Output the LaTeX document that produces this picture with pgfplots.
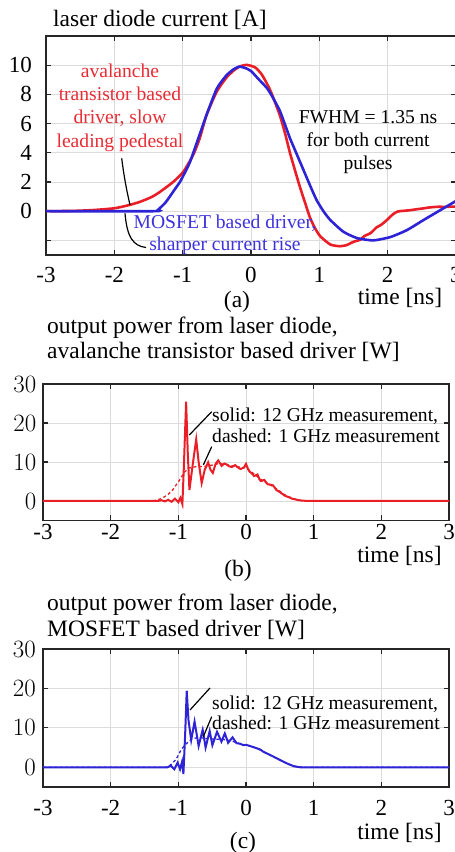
\documentclass[border=0pt]{standalone}
\usepackage{fontspec}
\setmainfont{Liberation Serif}
\usepackage{pgfplots}
\pgfplotsset{compat=1.18}
\definecolor{mred}{RGB}{234,30,38}
\definecolor{mblue}{RGB}{46,36,214}
\definecolor{tred}{RGB}{232,44,52}
\definecolor{tblue}{RGB}{62,50,222}
\pgfplotsset{
  mystyle/.style={
    scale only axis, anchor=south west,
    xmin=-3, xmax=3,
    xtick={-3,-2,-1,0,1,2,3}, xticklabels={-3,-2,-1,0,1,2,3},
    grid=major, major grid style={gray!28,line width=0.9pt},
    axis line style={black!85,line width=1.4pt},
    tick style={black!85,line width=1.1pt},
    major tick length=5pt,
    tick align=inside,
    xtick pos=both, ytick pos=both,
    ticklabel style={font=\fontsize{23}{26}\selectfont, inner sep=0pt},
  }
}
\newcommand{\ann}{\fontsize{19.6}{22}\selectfont}
\newcommand{\ttl}{\fontsize{23.5}{26}\selectfont}
\begin{document}
\begin{tikzpicture}[x=1pt,y=1pt]
\useasboundingbox (0,0) rectangle (455,852);
% ---------------- panel (a)
\begin{axis}[mystyle, at={(46pt,597pt)}, width=410pt, height=219pt,
  ymin=-3, ymax=12, ytick={-2,0,2,4,6,8,10}, yticklabels={,0,2,4,6,8,10},
  xticklabel style={yshift=-12pt}, yticklabel style={xshift=-14pt}]
\addplot[mred, line width=2.6pt, smooth, tension=0.35] coordinates {
(-3,0) (-2.6,0.02) (-2.3,0.08) (-2,0.2) (-1.8,0.4) (-1.625,0.64) (-1.45,0.98) (-1.33,1.33)
(-1.14,2.0) (-0.99,2.7) (-0.845,3.86) (-0.75,5.0) (-0.65,6.6) (-0.5,8.2) (-0.36,9.15)
(-0.25,9.65) (-0.16,9.92) (-0.06,10.02) (0.06,9.85) (0.16,9.35) (0.28,8.3) (0.42,6.6)
(0.5,5.3) (0.57,4.0) (0.65,2.7) (0.72,1.6) (0.79,0.6) (0.86,-0.4) (0.93,-1.1) (1.01,-1.7)
(1.16,-2.28) (1.3,-2.4) (1.4,-2.32) (1.5,-2.1) (1.6,-1.95) (1.66,-1.7) (1.75,-1.5) (1.84,-1.1)
(1.9,-0.95) (1.99,-0.6) (2.08,-0.2) (2.15,-0.02) (2.22,0.02) (2.33,0.07) (2.45,0.15) (2.52,0.19)
(2.6,0.25) (2.72,0.3) (2.85,0.3) (3,0.32)};
\addplot[mblue, line width=2.6pt, smooth, tension=0.35] coordinates {
(-3,0) (-1.42,0) (-1.36,0.1) (-1.25,0.6) (-1.14,1.33) (-1.1,1.6) (-1.04,2.0) (-0.95,2.8)
(-0.89,3.4) (-0.77,5.0) (-0.65,6.6) (-0.5,8.4) (-0.36,9.3) (-0.26,9.7) (-0.17,9.9)
(-0.08,9.8) (0,9.6) (0.1,9.1) (0.23,8.45) (0.3,7.95) (0.42,6.9) (0.5,5.9) (0.57,5.0) (0.67,3.9)
(0.77,2.8) (0.87,1.7) (0.96,0.76) (1.06,0) (1.16,-0.6) (1.35,-1.4) (1.55,-1.84) (1.79,-2.0)
(2.04,-1.77) (2.28,-1.3) (2.52,-0.62) (2.77,0.07) (3.0,0.7)};
\end{axis}
\node[anchor=base west, font=\ttl, inner sep=0pt] at (53,825.3) {laser diode current [A]};
\begin{scope}[every node/.style={anchor=base, font=\ann, inner sep=0pt, text=tred}]
\node at (120,774.7) {avalanche};
\node at (120,751.3) {transistor based};
\node at (120,728) {driver, slow};
\node at (120,704.7) {leading pedestal};
\end{scope}
\begin{scope}[every node/.style={anchor=base, font=\ann, inner sep=0pt, text=tblue}]
\node at (225,623.7) {MOSFET based driver,};
\node at (225,601.3) {sharper current rise};
\end{scope}
\begin{scope}[every node/.style={anchor=base, font=\ann, inner sep=0pt}]
\node at (368,728.7) {FWHM = 1.35 ns};
\node at (368,705.3) {for both current};
\node at (368,682) {pulses};
\end{scope}
\draw[line width=1.2pt] (121.7,693.7) .. controls (124,675) and (127,660) .. (130,647);
\draw[line width=1.2pt] (125,638.7) .. controls (127,615) and (133,606) .. (146,604.5);
\node[anchor=base, font=\ttl, inner sep=0pt] at (400,547.5) {time [ns]};
\node[anchor=base, font=\ttl, inner sep=0pt] at (237,544) {(a)};
% ---------------- panel (b)
\begin{axis}[mystyle, at={(43pt,331.5pt)}, width=406pt, height=136.5pt,
  ymin=-5, ymax=30, ytick={0,10,20,30},
  xticklabel style={yshift=-3.5pt}, yticklabel style={xshift=-6.5pt}]
\addplot[mred, line width=1.3pt, dash pattern=on 3pt off 2.5pt] coordinates {
(-3,0) (-1.45,0) (-1.35,0.1) (-1.25,0.6) (-1.15,1.7) (-1.085,2.8) (-0.985,5.3) (-0.91,7.4)
(-0.836,8.5) (-0.74,8.8) (-0.6,8.9) (-0.5,9.2) (-0.4,9.6) (-0.3,9.4) (-0.2,9.0) (-0.1,8.7)
(0,8.5) (0.1,7.2) (0.2,5.8) (0.3,4.6) (0.4,3.7) (0.5,2.5) (0.6,1.3) (0.7,0.6) (0.8,0.15) (0.9,0) (3,0)};
\addplot[mred, line width=2.0pt] coordinates {
(-3,0) (-1.3,0) (-1.25,0.2) (-1.2,-0.1) (-1.15,0.3) (-1.1,-0.2) (-1.05,0.6) (-1.0,-0.3)
(-0.97,0.8) (-0.94,-0.8) (-0.92,8) (-0.885,25.5) (-0.86,12) (-0.836,2.8) (-0.79,9)
(-0.736,15.8) (-0.70,10) (-0.655,4.6) (-0.61,8) (-0.56,9.9) (-0.525,8) (-0.49,7.2)
(-0.45,9.5) (-0.41,10.4) (-0.36,9.0) (-0.32,9.6) (-0.29,9.4) (-0.25,8.9) (-0.21,8.7)
(-0.16,9.2) (-0.12,8.6) (-0.08,8.2) (-0.03,8.6) (0.0,9.5) (0.03,8.2) (0.05,7.6) (0.09,7.0)
(0.12,6.4) (0.17,6.8) (0.2,5.5) (0.22,5.1) (0.27,5.4) (0.32,4.3) (0.36,4.2) (0.40,4.0)
(0.45,2.8) (0.49,2.4) (0.53,1.9) (0.58,1.3) (0.63,1.0) (0.68,0.6) (0.73,0.4) (0.78,0.2)
(0.83,0.1) (0.9,0.03) (1.0,0) (3,0)};
\end{axis}
\node[anchor=base west, font=\ttl, inner sep=0pt] at (47,518.7) {output power from laser diode,};
\node[anchor=base west, font=\ttl, inner sep=0pt] at (47,493.7) {avalanche transistor based driver [W]};
\node[anchor=base west, font=\ann, inner sep=0pt] at (212,430.3) {solid: 12 GHz measurement,};
\node[anchor=base west, font=\ann, inner sep=0pt] at (212,409.3) {dashed: 1 GHz measurement};
\draw[line width=1.2pt] (211.7,440.3) -- (189.3,417);
\draw[line width=1.2pt] (211.7,405.3) -- (203.3,387);
\node[anchor=base, font=\ttl, inner sep=0pt] at (399.5,289) {time [ns]};
\node[anchor=base, font=\ttl, inner sep=0pt] at (238,275) {(b)};
% ---------------- panel (c)
\begin{axis}[mystyle, at={(43pt,65pt)}, width=406pt, height=138pt,
  ymin=-5, ymax=30, ytick={0,10,20,30},
  xticklabel style={yshift=-13pt}, yticklabel style={xshift=-7pt}]
\addplot[mblue, line width=1.3pt, dash pattern=on 3pt off 2.5pt] coordinates {
(-3,0) (-1.2,0) (-1.16,0.1) (-1.1,0.8) (-1.03,2.1) (-0.96,4.4) (-0.91,5.5) (-0.85,6.5)
(-0.8,7.2) (-0.7,7.6) (-0.6,7.3) (-0.5,7.2) (-0.4,7.1) (-0.3,7.0) (-0.2,6.6) (-0.1,6.0)
(0,5.6) (0.1,5.2) (0.2,4.5) (0.3,3.6) (0.4,2.7) (0.5,1.8) (0.6,1.0) (0.7,0.35) (0.8,0.05) (0.9,0) (3,0)};
\addplot[mblue, line width=2.0pt] coordinates {
(-3,0) (-1.16,0) (-1.11,0.4) (-1.06,-0.5) (-1.01,1.2) (-0.975,-0.5) (-0.945,1.4) (-0.925,-1.7)
(-0.9,8) (-0.876,19.4) (-0.85,12) (-0.81,6.9) (-0.76,11.6) (-0.70,5.4) (-0.64,9.5)
(-0.597,5.0) (-0.537,9.2) (-0.497,5.6) (-0.428,9.0) (-0.363,6.5) (-0.313,8.6) (-0.264,6.2)
(-0.199,7.6) (-0.139,6.1) (-0.09,6.0) (-0.04,5.6) (0.0,5.7) (0.06,5.4) (0.13,5.0) (0.21,4.5)
(0.26,3.9) (0.31,3.5) (0.36,3.1) (0.43,2.5) (0.51,1.8) (0.56,1.35) (0.63,0.8) (0.71,0.25)
(0.8,0) (3,0)};
\end{axis}
\node[anchor=base west, font=\ttl, inner sep=0pt] at (47,241.3) {output power from laser diode,};
\node[anchor=base west, font=\ttl, inner sep=0pt] at (47,215.3) {MOSFET based driver [W]};
\node[anchor=base west, font=\ann, inner sep=0pt] at (212,142.7) {solid: 12 GHz measurement,};
\node[anchor=base west, font=\ann, inner sep=0pt] at (212,122) {dashed: 1 GHz measurement};
\draw[line width=1.2pt] (210,164) -- (190,142);
\draw[line width=1.2pt] (211.7,135.3) -- (203.3,115.3);
\node[anchor=base, font=\ttl, inner sep=0pt] at (399.5,12.7) {time [ns]};
\node[anchor=base, font=\ttl, inner sep=0pt] at (243,4) {(c)};
\end{tikzpicture}
\end{document}
